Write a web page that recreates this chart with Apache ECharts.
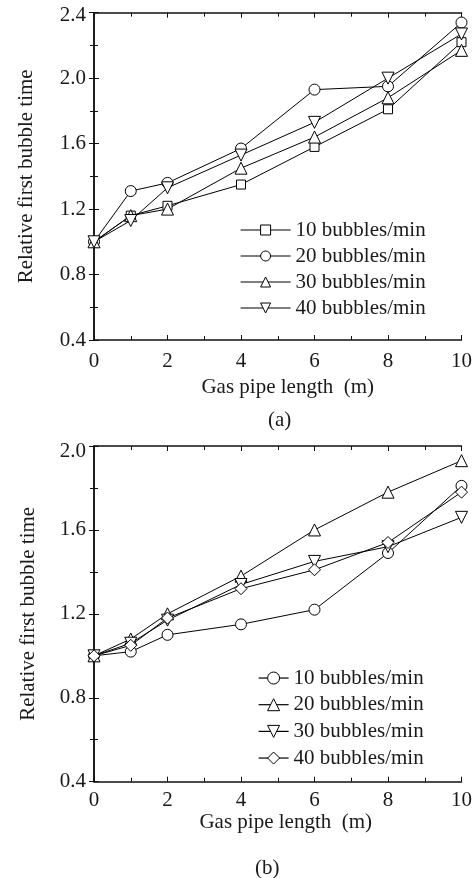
<!DOCTYPE html>
<html>
<head>
<meta charset="utf-8">
<script src="https://cdn.jsdelivr.net/npm/echarts@6/dist/echarts.min.js"></script>
<style>
html,body{margin:0;padding:0;background:#fff;}
#main{width:475px;height:878px;}
</style>
</head>
<body>
<div id="main"></div>
<script>
// ---- data ----
const xValues = [0, 1, 2, 4, 6, 8, 10];
const seriesNames = ['10 bubbles/min', '20 bubbles/min', '30 bubbles/min', '40 bubbles/min'];
// panel (a)
const a10 = [1.00, 1.16, 1.22, 1.35, 1.58, 1.81, 2.22];
const a20 = [1.00, 1.31, 1.36, 1.57, 1.93, 1.95, 2.34];
const a30 = [1.00, 1.16, 1.20, 1.45, 1.64, 1.88, 2.17];
const a40 = [1.00, 1.13, 1.33, 1.53, 1.73, 2.00, 2.27];
// panel (b)
const b10 = [1.00, 1.02, 1.10, 1.15, 1.22, 1.49, 1.81];
const b20 = [1.00, 1.08, 1.20, 1.38, 1.60, 1.78, 1.93];
const b30 = [1.00, 1.06, 1.17, 1.34, 1.45, 1.52, 1.66];
const b40 = [1.00, 1.05, 1.18, 1.32, 1.41, 1.54, 1.78];
// ticks
const xTicks = [0, 2, 4, 6, 8, 10];
const yTicksA = [0.4, 0.8, 1.2, 1.6, 2.0, 2.4];
const yTicksB = [0.4, 0.8, 1.2, 1.6, 2.0];
const xTitle = 'Gas pipe length  (m)';
const yTitle = 'Relative first bubble time';
const panelLabels = ['(a)', '(b)'];

// ---- styling ----
const FONT = 'Liberation Serif, Times New Roman, serif';
const TXT = '#1a1a1a';
const AX = '#111';

function pairs(arr) { return xValues.map((x, i) => [x, arr[i]]); }

function xAxisPair(grid, labelMargin, nameGap, shift) {
  const base = {
    type: 'value', gridIndex: grid,
    min: xTicks[0], max: xTicks[xTicks.length - 1], interval: xTicks[1] - xTicks[0],
    splitLine: { show: false },
    axisLine: { show: true, lineStyle: { color: AX, width: 1.5 } },
    axisTick: { show: true, inside: true, length: 5, lineStyle: { color: AX, width: 1 } },
    minorTick: { show: true, splitNumber: 2, length: 4, lineStyle: { color: AX, width: 1 } },
    minorSplitLine: { show: false }
  };
  return [
    Object.assign({}, base, {
      position: 'bottom',
      axisLabel: { margin: labelMargin, color: TXT, fontFamily: FONT, fontSize: 21 },
      name: xTitle, nameLocation: 'middle', nameGap: nameGap,
      nameTextStyle: { color: TXT, fontFamily: FONT, fontSize: 21, padding: [0, 0, 0, shift * 2] }
    }),
    Object.assign({}, base, { position: 'top', axisLabel: { show: false } })
  ];
}

function yAxisPair(grid, ticks, nameGap, topShift) {
  const top = ticks[ticks.length - 1];
  const base = {
    type: 'value', gridIndex: grid,
    min: ticks[0], max: top, interval: 0.4,
    splitLine: { show: false },
    axisLine: { show: true, lineStyle: { color: AX, width: 1.5 } },
    axisTick: { show: true, inside: true, length: 5, lineStyle: { color: AX, width: 1 } },
    minorTick: { show: true, splitNumber: 2, length: 4, lineStyle: { color: AX, width: 1 } },
    minorSplitLine: { show: false }
  };
  return [
    Object.assign({}, base, {
      position: 'left',
      axisLabel: { margin: 8, color: TXT, fontFamily: FONT, fontSize: 21,
        formatter: v => Math.abs(v - top) < 1e-9 ? '{t|' + v.toFixed(1) + '}' : v.toFixed(1),
        rich: { t: { color: TXT, fontFamily: FONT, fontSize: 21, padding: [topShift * 2, 0, 0, 0] } } },
      name: yTitle, nameLocation: 'middle', nameGap: nameGap,
      nameTextStyle: { color: TXT, fontFamily: FONT, fontSize: 21 }
    }),
    Object.assign({}, base, { position: 'right', axisLabel: { show: false } })
  ];
}

function lineSeries(prefix, idx, name, arr, symbol, size, rotate) {
  return {
    type: 'line', name: prefix + name,
    xAxisIndex: idx * 2, yAxisIndex: idx * 2,
    data: pairs(arr),
    symbol: symbol, symbolSize: size, symbolRotate: rotate || 0,
    showSymbol: true,
    color: '#000',
    lineStyle: { color: '#000', width: 1 },
    itemStyle: { color: '#fff', borderColor: '#000', borderWidth: 1 },
    emphasis: { disabled: true },
    animation: false
  };
}

const symA = [['rect', 9, 0], ['circle', 11, 0], ['triangle', 12, 0], ['triangle', 12, 180]];
const symB = [['circle', 11, 0], ['triangle', 12, 0], ['triangle', 12, 180], ['diamond', 12, 0]];
const dataA = [a10, a20, a30, a40];
const dataB = [b10, b20, b30, b40];

const series = [];
seriesNames.forEach((n, i) => series.push(lineSeries('a:', 0, n, dataA[i], symA[i][0], symA[i][1], symA[i][2])));
seriesNames.forEach((n, i) => series.push(lineSeries('b:', 1, n, dataB[i], symB[i][0], symB[i][1], symB[i][2])));

function legend(prefix, left, top, itemWidth, itemHeight, lh) {
  return {
    orient: 'vertical', left: left, top: top, padding: 0,
    itemWidth: itemWidth, itemHeight: itemHeight, itemGap: 0,
    selectedMode: false,
    data: seriesNames.map(n => prefix + n),
    formatter: name => name.slice(2),
    textStyle: { color: TXT, fontFamily: FONT, fontSize: 21, lineHeight: lh },
    itemStyle: { borderWidth: 1 },
    lineStyle: { width: 1.2 }
  };
}

const xa = xAxisPair(0, 11, 36.5, 10).concat(xAxisPair(1, 8, 27, 8));
const ya = yAxisPair(0, yTicksA, 57, 3).concat(yAxisPair(1, yTicksB, 55.5, 5));

const option = {
  animation: false,
  backgroundColor: '#fff',
  grid: [
    { left: 94, top: 12.7, width: 367.7, height: 327.3 },
    { left: 94, top: 446, width: 367.7, height: 335.7 }
  ],
  xAxis: xa,
  yAxis: ya,
  legend: [
    legend('a:', 240, 217, 50, 12.5, 26),
    legend('b:', 258, 664.7, 30, 15, 26.67)
  ],
  series: series,
  graphic: [
    { type: 'text', left: 268, top: 410, style: { text: panelLabels[0], fill: TXT, font: '21px ' + FONT } },
    { type: 'text', left: 255, top: 858, style: { text: panelLabels[1], fill: TXT, font: '21px ' + FONT } }
  ]
};

const chart = echarts.init(document.getElementById('main'), null, { renderer: 'canvas' });
chart.setOption(option);
</script>
</body>
</html>
